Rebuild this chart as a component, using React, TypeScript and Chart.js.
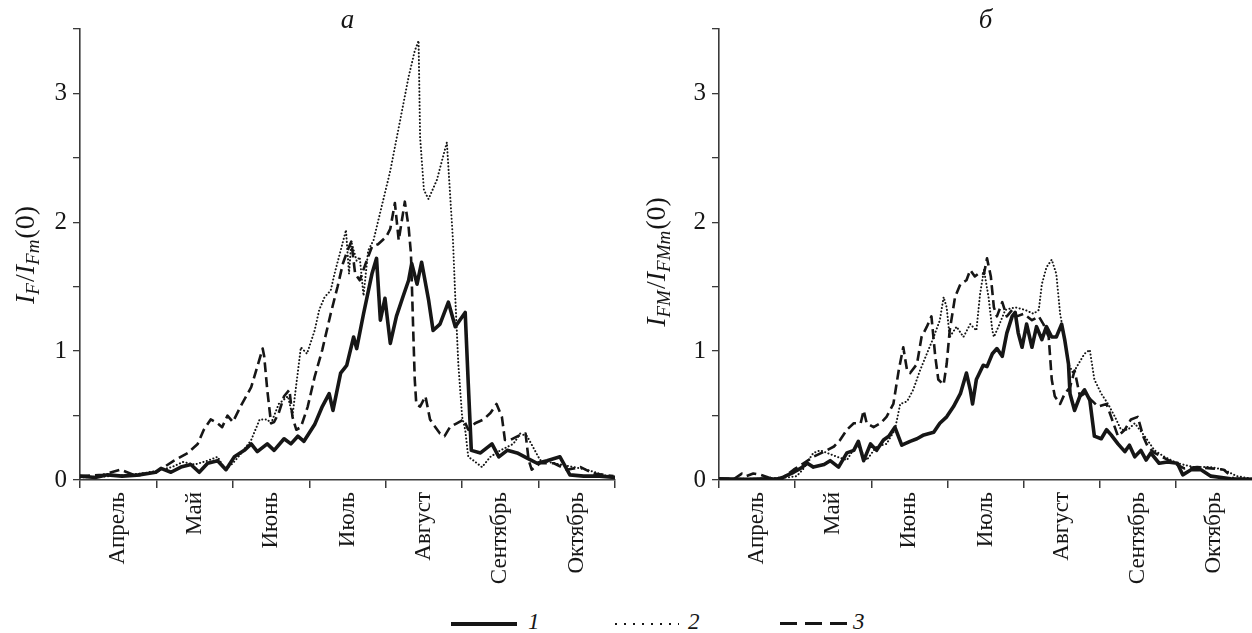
import React, { useEffect, useRef } from 'react';
import { Chart, registerables } from 'chart.js';

Chart.register(...registerables);

const FONT = '"Liberation Serif", "Times New Roman", serif';
const INK = '#161616';
const AXIS = '#3a3a3a';

const MONTHS = ['Апрель', 'Май', 'Июнь', 'Июль', 'Август', 'Сентябрь', 'Октябрь'];
const Y_MAX = 3.5;
const SERIES_LABELS = ['1', '2', '3'];
const PANEL_TITLES = ['а', 'б'];

// ---- Panel а: I_F / I_Fm(0) ----
const aX1 = [0, 0.2, 0.36, 0.55, 0.79, 0.99, 1.06, 1.19, 1.32, 1.45, 1.56, 1.67, 1.8, 1.91, 2.02, 2.15, 2.24, 2.32, 2.45, 2.54, 2.67, 2.76, 2.85, 2.93, 3.07, 3.17, 3.26, 3.31, 3.41, 3.49, 3.58, 3.62, 3.71, 3.82, 3.88, 3.93, 3.99, 4.06, 4.14, 4.23, 4.3, 4.34, 4.41, 4.47, 4.56, 4.62, 4.71, 4.82, 4.91, 5.04, 5.08, 5.12, 5.24, 5.39, 5.48, 5.59, 5.72, 5.85, 5.98, 6.11, 6.28, 6.41, 6.59, 6.8, 7.0];
const aY1 = [0.03, 0.02, 0.04, 0.03, 0.04, 0.06, 0.09, 0.06, 0.1, 0.12, 0.06, 0.13, 0.15, 0.08, 0.18, 0.23, 0.28, 0.22, 0.28, 0.23, 0.32, 0.28, 0.34, 0.3, 0.43, 0.57, 0.67, 0.54, 0.83, 0.89, 1.11, 1.02, 1.29, 1.6, 1.72, 1.24, 1.41, 1.06, 1.27, 1.43, 1.55, 1.68, 1.52, 1.69, 1.4, 1.16, 1.21, 1.38, 1.19, 1.3, 0.75, 0.23, 0.21, 0.28, 0.18, 0.23, 0.21, 0.17, 0.13, 0.15, 0.18, 0.04, 0.03, 0.03, 0.02];

const aX2 = [0, 0.4, 0.8, 1.0, 1.2, 1.35, 1.5, 1.67, 1.8, 1.9, 2.0, 2.1, 2.24, 2.35, 2.45, 2.5, 2.6, 2.72, 2.78, 2.89, 2.97, 3.07, 3.13, 3.2, 3.28, 3.33, 3.41, 3.48, 3.52, 3.55, 3.62, 3.66, 3.71, 3.77, 3.84, 4.06, 4.3, 4.38, 4.43, 4.45, 4.5, 4.56, 4.67, 4.8, 4.88, 4.91, 4.95, 5.0, 5.04, 5.08, 5.14, 5.26, 5.37, 5.5, 5.67, 5.76, 5.85, 6.02, 6.2, 6.46, 6.63, 6.9, 7.0];
const aY2 = [0.02, 0.03, 0.05, 0.07, 0.1, 0.14, 0.12, 0.15, 0.18, 0.08, 0.13, 0.2, 0.31, 0.47, 0.47, 0.44, 0.59, 0.65, 0.5, 1.03, 0.98, 1.16, 1.32, 1.42, 1.47, 1.6, 1.78, 1.94, 1.6, 1.85, 1.7, 1.73, 1.43, 1.78, 1.86, 2.4, 3.13, 3.33, 3.41, 2.66, 2.25, 2.18, 2.33, 2.62, 1.86, 1.42, 0.9, 0.49, 0.39, 0.18, 0.155, 0.1, 0.18, 0.23, 0.28, 0.36, 0.34, 0.155, 0.13, 0.1, 0.08, 0.03, 0.02];

const aX3 = [0, 0.3, 0.53, 0.7, 1.0, 1.1, 1.23, 1.41, 1.54, 1.62, 1.71, 1.8, 1.86, 1.93, 2.0, 2.1, 2.24, 2.32, 2.39, 2.41, 2.45, 2.5, 2.54, 2.6, 2.67, 2.74, 2.78, 2.83, 2.89, 2.98, 3.07, 3.17, 3.28, 3.37, 3.44, 3.5, 3.55, 3.6, 3.66, 3.75, 3.82, 3.9, 4.01, 4.06, 4.12, 4.17, 4.25, 4.3, 4.33, 4.36, 4.38, 4.4, 4.45, 4.52, 4.58, 4.65, 4.71, 4.77, 4.84, 4.93, 5.02, 5.08, 5.17, 5.28, 5.37, 5.45, 5.52, 5.56, 5.63, 5.76, 5.83, 5.87, 5.91, 6.02, 6.2, 6.37, 6.55, 6.72, 6.98];
const aY3 = [0.03, 0.04, 0.08, 0.04, 0.06, 0.1, 0.15, 0.21, 0.28, 0.39, 0.47, 0.44, 0.41, 0.5, 0.45, 0.57, 0.72, 0.88, 1.02, 0.96, 0.7, 0.44, 0.45, 0.52, 0.65, 0.7, 0.49, 0.39, 0.41, 0.57, 0.8, 1.01, 1.29, 1.5, 1.68, 1.78, 1.85, 1.6, 1.55, 1.7, 1.81, 1.83, 1.89, 1.95, 2.15, 1.86, 2.16, 1.96, 1.76, 1.16, 0.78, 0.59, 0.57, 0.65, 0.47, 0.41, 0.36, 0.34, 0.41, 0.44, 0.47, 0.39, 0.44, 0.47, 0.52, 0.59, 0.49, 0.31, 0.31, 0.35, 0.36, 0.155, 0.08, 0.13, 0.13, 0.08, 0.1, 0.05, 0.03];

// ---- Panel б: I_FM / I_FMm(0) ----
const bX1 = [0, 0.37, 0.63, 0.81, 0.87, 0.98, 1.07, 1.16, 1.24, 1.38, 1.46, 1.57, 1.68, 1.77, 1.83, 1.9, 1.99, 2.07, 2.16, 2.23, 2.31, 2.4, 2.51, 2.6, 2.69, 2.82, 2.9, 2.99, 3.08, 3.17, 3.25, 3.3, 3.33, 3.38, 3.47, 3.52, 3.59, 3.65, 3.72, 3.78, 3.85, 3.89, 3.93, 3.98, 4.04, 4.11, 4.17, 4.24, 4.3, 4.37, 4.43, 4.5, 4.54, 4.59, 4.61, 4.67, 4.74, 4.8, 4.87, 4.93, 5.02, 5.09, 5.15, 5.24, 5.33, 5.39, 5.46, 5.54, 5.61, 5.67, 5.78, 5.89, 6.02, 6.09, 6.2, 6.33, 6.46, 6.72, 7.0];
const bY1 = [0.01, 0.005, 0.01, 0.005, 0.03, 0.06, 0.09, 0.13, 0.1, 0.12, 0.15, 0.1, 0.21, 0.23, 0.3, 0.15, 0.28, 0.23, 0.31, 0.34, 0.41, 0.27, 0.3, 0.32, 0.35, 0.37, 0.44, 0.49, 0.57, 0.67, 0.83, 0.7, 0.59, 0.78, 0.89, 0.88, 0.98, 1.02, 0.96, 1.14, 1.27, 1.3, 1.14, 1.03, 1.21, 1.03, 1.19, 1.09, 1.19, 1.11, 1.11, 1.21, 1.09, 0.9, 0.67, 0.54, 0.65, 0.7, 0.62, 0.34, 0.32, 0.39, 0.35, 0.28, 0.22, 0.27, 0.18, 0.23, 0.155, 0.21, 0.13, 0.14, 0.13, 0.04, 0.08, 0.08, 0.03, 0.01, 0.005];

const bX2 = [0, 0.5, 0.9, 1.02, 1.1, 1.17, 1.24, 1.33, 1.42, 1.55, 1.68, 1.81, 1.94, 2.07, 2.2, 2.31, 2.38, 2.47, 2.55, 2.64, 2.73, 2.82, 2.9, 2.95, 2.99, 3.03, 3.12, 3.21, 3.3, 3.38, 3.43, 3.48, 3.54, 3.59, 3.61, 3.67, 3.76, 3.89, 4.02, 4.13, 4.2, 4.24, 4.3, 4.37, 4.43, 4.48, 4.52, 4.59, 4.65, 4.72, 4.8, 4.87, 4.93, 5.02, 5.11, 5.2, 5.28, 5.37, 5.46, 5.59, 5.72, 5.85, 6.02, 6.24, 6.46, 6.63, 6.8, 7.0];
const bY2 = [0.01, 0.01, 0.02, 0.03, 0.08, 0.15, 0.21, 0.23, 0.21, 0.18, 0.155, 0.28, 0.155, 0.26, 0.28, 0.39, 0.59, 0.61, 0.7, 0.85, 0.98, 1.11, 1.24, 1.42, 1.34, 1.11, 1.19, 1.11, 1.21, 1.16, 1.45, 1.63, 1.42, 1.16, 1.11, 1.19, 1.32, 1.34, 1.32, 1.29, 1.32, 1.52, 1.65, 1.71, 1.6, 1.29, 1.16, 0.9, 0.83, 0.9, 0.98, 1.01, 0.78, 0.67, 0.59, 0.49, 0.39, 0.39, 0.44, 0.34, 0.23, 0.18, 0.13, 0.1, 0.1, 0.08, 0.03, 0.01];

const bX3 = [0, 0.2, 0.3, 0.36, 0.45, 0.55, 0.65, 0.75, 0.87, 0.98, 1.11, 1.24, 1.38, 1.51, 1.59, 1.68, 1.77, 1.86, 1.9, 1.94, 2.03, 2.12, 2.2, 2.29, 2.36, 2.42, 2.47, 2.51, 2.6, 2.66, 2.73, 2.79, 2.84, 2.88, 2.95, 2.99, 3.03, 3.1, 3.17, 3.25, 3.3, 3.36, 3.43, 3.48, 3.52, 3.57, 3.61, 3.65, 3.72, 3.78, 3.85, 3.91, 4.0, 4.11, 4.2, 4.26, 4.33, 4.37, 4.41, 4.48, 4.54, 4.61, 4.67, 4.74, 4.8, 4.89, 4.98, 5.09, 5.15, 5.24, 5.33, 5.41, 5.5, 5.57, 5.63, 5.72, 5.85, 5.98, 6.11, 6.28, 6.46, 6.63, 6.76, 7.0];
const bY3 = [0.01, 0.01, 0.05, 0.03, 0.05, 0.04, 0.02, 0.01, 0.03, 0.08, 0.13, 0.18, 0.22, 0.26, 0.31, 0.39, 0.44, 0.44, 0.54, 0.44, 0.41, 0.44, 0.49, 0.59, 0.85, 1.03, 0.85, 0.83, 0.9, 1.11, 1.19, 1.27, 0.96, 0.78, 0.74, 0.9, 1.16, 1.42, 1.52, 1.55, 1.63, 1.58, 1.61, 1.6, 1.72, 1.58, 1.34, 1.27, 1.38, 1.27, 1.32, 1.27, 1.29, 1.24, 1.27, 1.21, 1.11, 0.78, 0.65, 0.59, 0.67, 0.72, 0.85, 0.65, 0.67, 0.62, 0.57, 0.59, 0.49, 0.34, 0.39, 0.47, 0.49, 0.34, 0.26, 0.21, 0.17, 0.13, 0.09, 0.1, 0.09, 0.08, 0.01, 0.005];

type Part = { text: string; italic: boolean; sub: boolean };
const Y_TITLE_A: Part[] = [
  { text: 'I', italic: true, sub: false },
  { text: 'F', italic: true, sub: true },
  { text: '/', italic: false, sub: false },
  { text: 'I', italic: true, sub: false },
  { text: 'Fm', italic: true, sub: true },
  { text: '(0)', italic: false, sub: false },
];
const Y_TITLE_B: Part[] = [
  { text: 'I', italic: true, sub: false },
  { text: 'FM', italic: true, sub: true },
  { text: '/', italic: false, sub: false },
  { text: 'I', italic: true, sub: false },
  { text: 'FMm', italic: true, sub: true },
  { text: '(0)', italic: false, sub: false },
];

const DASH_STYLES = [
  { borderWidth: 3.6, borderDash: [] as number[], borderCapStyle: 'round' },
  { borderWidth: 2, borderDash: [0.1, 3.4], borderCapStyle: 'round' },
  { borderWidth: 2.6, borderDash: [10, 5], borderCapStyle: 'butt' },
];

const toPoints = (xs: number[], ys: number[]) => xs.map((x, i) => ({ x, y: ys[i] }));

const textPlugin = {
  id: 'panelTexts',
  afterDraw(chart: any, _args: any, opts: any) {
    const { ctx, chartArea } = chart;
    ctx.save();
    ctx.fillStyle = INK;
    ctx.font = `italic 27px ${FONT}`;
    ctx.textAlign = 'center';
    ctx.textBaseline = 'middle';
    ctx.fillText(opts.title, (chartArea.left + chartArea.right) / 2, 21);
    const parts: Part[] = opts.parts;
    const fonts = parts.map((p) => `${p.italic ? 'italic ' : ''}${p.sub ? 19 : 28}px ${FONT}`);
    let total = 0;
    parts.forEach((p, i) => {
      ctx.font = fonts[i];
      total += ctx.measureText(p.text).width + (p.sub ? 1 : 0);
    });
    ctx.translate(opts.x, opts.cy);
    ctx.rotate(-Math.PI / 2);
    ctx.textAlign = 'left';
    ctx.textBaseline = 'alphabetic';
    let cx = -total / 2;
    parts.forEach((p, i) => {
      ctx.font = fonts[i];
      ctx.fillText(p.text, cx, p.sub ? 5 : 0);
      cx += ctx.measureText(p.text).width + (p.sub ? 1 : 0);
    });
    ctx.restore();
  },
};

type PanelCfg = {
  left: number;
  yWidth: number;
  padRight: number;
  title: string;
  parts: Part[];
  titleX: number;
  titleCy: number;
  hideLastTick: boolean;
  series: { xs: number[]; ys: number[] }[];
};

const X_TICK_VALUES = Array.from({ length: 15 }, (_, i) => i / 2);
const Y_TICK_VALUES = Array.from({ length: 8 }, (_, i) => i / 2);

function Panel({ cfg }: { cfg: PanelCfg }) {
  const ref = useRef<HTMLCanvasElement>(null);
  useEffect(() => {
    const chart = new Chart(ref.current as HTMLCanvasElement, {
      type: 'line',
      data: {
        datasets: cfg.series.map((s, i) => ({
          label: SERIES_LABELS[i],
          data: toPoints(s.xs, s.ys),
          borderColor: INK,
          backgroundColor: INK,
          pointRadius: 0,
          fill: false,
          tension: 0,
          borderJoinStyle: 'round',
          ...DASH_STYLES[i],
        })) as any,
      },
      options: {
        animation: false,
        responsive: false,
        maintainAspectRatio: false,
        events: [],
        layout: { padding: { top: 29, right: cfg.padRight, left: 0, bottom: 0 } },
        plugins: {
          legend: { display: false },
          tooltip: { enabled: false },
          title: { display: false },
          panelTexts: { title: cfg.title, parts: cfg.parts, x: cfg.titleX, cy: cfg.titleCy },
        } as any,
        scales: {
          x: {
            type: 'linear',
            min: 0,
            max: 7,
            afterBuildTicks: (s: any) => {
              s.ticks = X_TICK_VALUES.map((v) => ({ value: v }));
            },
            afterFit: (s: any) => {
              s.height = 120;
              s.paddingLeft = 0;
              s.paddingRight = 0;
            },
            ticks: {
              autoSkip: false,
              minRotation: 90,
              maxRotation: 90,
              padding: 4,
              color: INK,
              font: { family: FONT, size: 23 },
              callback: (v: any) => (Number.isInteger(v) ? '' : MONTHS[Math.floor(v)]),
            },
            grid: {
              drawOnChartArea: false,
              drawTicks: true,
              tickLength: 8,
              lineWidth: 1.5,
              color: (c: any) => {
                const v = c.tick ? c.tick.value : 0;
                if (!Number.isInteger(v)) return 'rgba(0,0,0,0)';
                if (cfg.hideLastTick && v === 7) return 'rgba(0,0,0,0)';
                return AXIS;
              },
            },
            border: { color: AXIS, width: 1.6 },
          },
          y: {
            type: 'linear',
            min: 0,
            max: Y_MAX,
            afterBuildTicks: (s: any) => {
              s.ticks = Y_TICK_VALUES.map((v) => ({ value: v }));
            },
            afterFit: (s: any) => {
              s.width = cfg.yWidth;
              s.paddingTop = 0;
              s.paddingBottom = 0;
            },
            ticks: {
              padding: 6,
              color: INK,
              font: { family: FONT, size: 25 },
              callback: (v: any) => (Number.isInteger(v) ? String(v) : ''),
            },
            grid: {
              drawOnChartArea: false,
              drawTicks: true,
              tickLength: 7,
              lineWidth: 1.3,
              color: AXIS,
            },
            border: { color: AXIS, width: 1.6 },
          },
        },
      } as any,
      plugins: [textPlugin],
    });
    return () => chart.destroy();
  }, []);
  return (
    <canvas
      ref={ref}
      width={626}
      height={600}
      style={{ position: 'absolute', left: cfg.left, top: 0, width: 626, height: 600 }}
    />
  );
}

const PANEL_A: PanelCfg = {
  left: 0,
  yWidth: 80,
  padRight: 11,
  title: PANEL_TITLES[0],
  parts: Y_TITLE_A,
  titleX: 34,
  titleCy: 255,
  hideLastTick: false,
  series: [
    { xs: aX1, ys: aY1 },
    { xs: aX2, ys: aY2 },
    { xs: aX3, ys: aY3 },
  ],
};

const PANEL_B: PanelCfg = {
  left: 626,
  yWidth: 93,
  padRight: 0,
  title: PANEL_TITLES[1],
  parts: Y_TITLE_B,
  titleX: 39,
  titleCy: 262,
  hideLastTick: true,
  series: [
    { xs: bX1, ys: bY1 },
    { xs: bX2, ys: bY2 },
    { xs: bX3, ys: bY3 },
  ],
};

const legendText: React.CSSProperties = {
  position: 'absolute',
  top: 609,
  font: `italic 23px ${FONT}`,
  color: INK,
  lineHeight: '26px',
};

export default function App() {
  return (
    <div style={{ position: 'absolute', left: 0, top: 0, width: 1252, height: 633, background: '#fff', overflow: 'hidden' }}>
      <Panel cfg={PANEL_A} />
      <Panel cfg={PANEL_B} />
      <div style={{ position: 'absolute', left: 451, top: 622, width: 66, height: 4, background: INK }} />
      <span style={{ ...legendText, left: 528 }}>{SERIES_LABELS[0]}</span>
      <div
        style={{
          position: 'absolute',
          left: 615,
          top: 623,
          width: 64,
          height: 2,
          background: `repeating-linear-gradient(to right, ${INK} 0 2px, transparent 2px 9px)`,
        }}
      />
      <span style={{ ...legendText, left: 688 }}>{SERIES_LABELS[1]}</span>
      <div
        style={{
          position: 'absolute',
          left: 780,
          top: 622,
          width: 67,
          height: 3,
          background: `repeating-linear-gradient(to right, ${INK} 0 17px, transparent 17px 25px)`,
        }}
      />
      <span style={{ ...legendText, left: 853 }}>{SERIES_LABELS[2]}</span>
    </div>
  );
}
